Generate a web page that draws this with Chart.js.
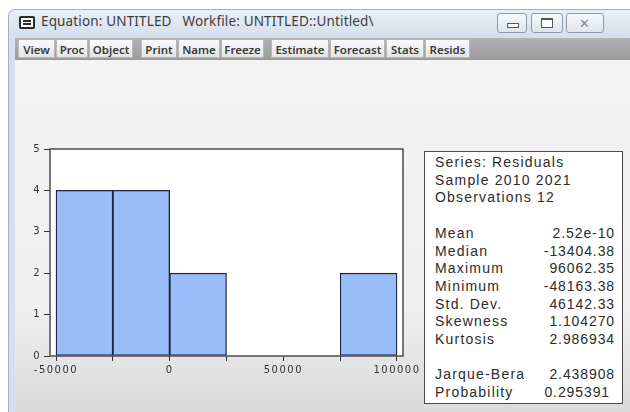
<!DOCTYPE html>
<html><head><meta charset="utf-8">
<script src="https://cdn.jsdelivr.net/npm/chart.js@4.4.0/dist/chart.umd.min.js"></script>
<style>
html,body{margin:0;padding:0;width:630px;height:412px;overflow:hidden;background:#fff;font-family:"Noto Sans",sans-serif;}
.abs{position:absolute;}
#frame{left:8px;top:9px;width:630px;height:410px;border-top-left-radius:7px;background:#d3e0ef;border-left:1px solid #9fb0c4;border-top:1px solid #9fb0c4;}
#titlebar{left:9px;top:10px;width:630px;height:27px;border-top-left-radius:6px;background:linear-gradient(#e9eff7,#d5dfeb);}
#icon{left:19px;top:16px;width:12px;height:9px;border:2px solid #2b2b2b;border-radius:2px;background:#fff;}
#icon:before,#icon:after{content:"";position:absolute;left:2px;right:2px;height:1.5px;background:#2b2b2b;}
#icon:before{top:2px;} #icon:after{top:5px;}
#ttext{left:41px;top:12px;font-size:13.5px;color:#3d3d3d;white-space:pre;letter-spacing:0.15px;}
.wbtn{top:13px;height:18px;border:1px solid #8e9bab;border-radius:3px;background:linear-gradient(#f7f9fc,#dde4ec);}
#toolbar{left:15px;top:38px;width:615px;height:22px;background:linear-gradient(#b3b3b3,#9a9a9a);}
.tb{top:39px;height:19px;border:1px solid #b9b9b9;background:linear-gradient(#fbfbfb,#e4e4e4);font-size:11.5px;font-weight:600;color:#3a3a3a;text-align:center;line-height:19px;box-sizing:border-box;}
#content{left:15px;top:60px;width:615px;height:352px;background:linear-gradient(#f3f3f3 0%,#f0f0f0 70%,#dadada 100%);}
#chartwrap{left:0px;top:130px;width:430px;height:270px;}
#stats{left:424px;top:151px;width:197px;height:251px;border:1.5px solid #4a4a4a;background:#fff;font-family:"Liberation Sans",Arial,sans-serif;font-size:14px;letter-spacing:1.2px;color:#2c2c2c;}
.row{position:absolute;left:10px;right:7px;height:18px;line-height:18px;white-space:nowrap;}
.row .v{position:absolute;right:0;top:0;letter-spacing:0.9px;}
</style>
</head><body>
<div id="frame" class="abs"></div>
<div id="titlebar" class="abs"></div>
<div id="icon" class="abs"></div>
<div id="ttext" class="abs">Equation: UNTITLED   Workfile: UNTITLED::Untitled\</div>
<div class="abs wbtn" style="left:497px;width:28px;"><div class="abs" style="left:9px;top:9px;width:10px;height:3px;border:1px solid #555;background:#fff;"></div></div>
<div class="abs wbtn" style="left:531px;width:30px;"><div class="abs" style="left:9px;top:4px;width:10px;height:7px;border:1px solid #555;border-top-width:2px;background:#fff;"></div></div>
<div class="abs wbtn" style="left:566px;width:36px;"><div class="abs" style="left:12px;top:0px;font-size:13px;color:#8a8a8a;line-height:18px;">✕</div></div>
<div id="toolbar" class="abs"></div>
<div id="content" class="abs"></div>
<div id="tbButtons"></div>
<div id="chartwrap" class="abs"><canvas id="c" width="430" height="270"></canvas></div>
<div id="stats" class="abs"></div>
<script>
// ---- Data ----
const binLower = [-50000, -25000, 0, 25000, 50000, 75000];
const binUpper = [-25000, 0, 25000, 50000, 75000, 100000];
const binCounts = [4, 4, 2, 0, 0, 2];
const xTickValues = [-50000, -25000, 0, 25000, 50000, 75000, 100000];
const xLabelled = [-50000, 0, 50000, 100000];
const yTickValues = [0, 1, 2, 3, 4, 5];
const statLabels = ["Series: Residuals", "Sample 2010 2021", "Observations 12", "",
  "Mean", "Median", "Maximum", "Minimum", "Std. Dev.", "Skewness", "Kurtosis", "",
  "Jarque-Bera", "Probability"];
const statValues = ["", "", "", "",
  "2.52e-10", "-13404.38", "96062.35", "-48163.38", "46142.33", "1.104270", "2.986934", "",
  "2.438908", "0.295391"];
const toolbarGroups = [["View", "Proc", "Object"], ["Print", "Name", "Freeze"], ["Estimate", "Forecast", "Stats", "Resids"]];

// ---- toolbar ----
const tbWidths = {View:37,Proc:32,Object:44,Print:36,Name:42,Freeze:43,Estimate:58,Forecast:55,Stats:38,Resids:45};
const tbStarts = [18, 141, 271];
const tbHost = document.getElementById('tbButtons');
toolbarGroups.forEach((g, gi) => {
  let x = tbStarts[gi];
  g.forEach(name => {
    const d = document.createElement('div');
    d.className = 'abs tb';
    d.style.left = x + 'px';
    d.style.width = tbWidths[name] + 'px';
    d.textContent = name;
    tbHost.appendChild(d);
    x += tbWidths[name] + 1;
  });
});

// ---- stats box ----
const stats = document.getElementById('stats');
statLabels.forEach((lab, i) => {
  const r = document.createElement('div');
  r.className = 'row';
  r.style.top = (1 + i * 17.7) + 'px';
  const l = document.createElement('span');
  l.textContent = lab;
  r.appendChild(l);
  if (statValues[i]) {
    const v = document.createElement('span');
    v.className = 'v';
    v.textContent = statValues[i];
    if (lab === 'Probability') v.style.right = '5px';
    r.appendChild(v);
  }
  stats.appendChild(r);
});

// ---- chart ----
const framePlugin = {
  id: 'frame',
  beforeDraw(chart) {
    const {ctx, chartArea: a} = chart;
    ctx.save();
    ctx.fillStyle = '#ffffff';
    ctx.fillRect(a.left, a.top, a.right - a.left, a.bottom - a.top);
    ctx.restore();
    ctx.letterSpacing = '1.5px';
  },
  afterDraw(chart) {
    const {ctx, chartArea: a} = chart;
    ctx.save();
    ctx.letterSpacing = '0px';
    ctx.strokeStyle = '#4d4d4d';
    ctx.lineWidth = 1.5;
    ctx.strokeRect(a.left, a.top, a.right - a.left, a.bottom - a.top);
    ctx.restore();
  }
};

const points = binLower.map((lo, i) => ({x: (lo + binUpper[i]) / 2, y: binCounts[i] > 0 ? binCounts[i] : null}));

new Chart(document.getElementById('c'), {
  type: 'bar',
  data: {
    datasets: [{
      data: points,
      backgroundColor: '#98bdf8',
      borderColor: '#1d2542',
      borderWidth: 1.3,
      borderSkipped: false,
      barPercentage: 1.0,
      categoryPercentage: 1.0
    }]
  },
  options: {
    responsive: false,
    animation: false,
    events: [],
    layout: {padding: {left: 0, top: 19, right: 27, bottom: 14}},
    plugins: {legend: {display: false}, tooltip: {enabled: false}},
    scales: {
      x: {
        type: 'linear',
        offset: false,
        min: -52640,
        max: 102640,
        afterBuildTicks: (s) => { s.ticks = xTickValues.map(v => ({value: v})); },
        afterFit: (s) => { s.height = 30; },
        border: {display: false},
        grid: {offset: false, drawOnChartArea: false, drawTicks: true, tickLength: 5, color: '#2f2f2f', lineWidth: 1},
        ticks: {
          autoSkip: false, maxRotation: 0, padding: 3,
          color: '#333', font: {family: 'DejaVu Sans', size: 10},
          callback: (v) => xLabelled.includes(v) ? String(v) : ''
        }
      },
      y: {
        min: 0,
        max: 5,
        afterBuildTicks: (s) => { s.ticks = yTickValues.map(v => ({value: v})); },
        afterFit: (s) => { s.width = 50; },
        border: {display: false},
        grid: {drawOnChartArea: false, drawTicks: true, tickLength: 6, color: '#2f2f2f', lineWidth: 1},
        ticks: {padding: 3, color: '#333', font: {family: 'DejaVu Sans', size: 10}}
      }
    }
  },
  plugins: [framePlugin]
});
</script>
</body></html>
